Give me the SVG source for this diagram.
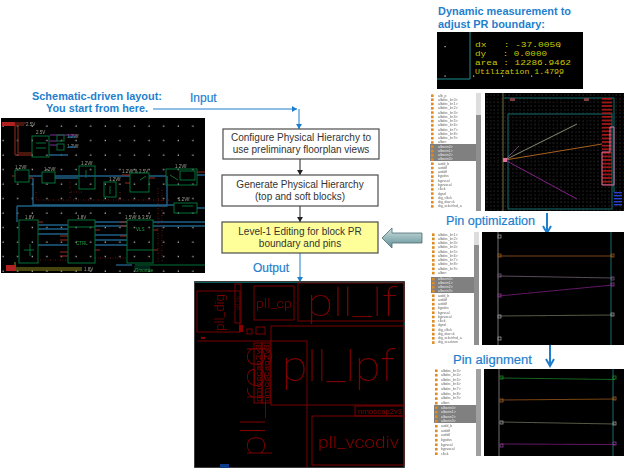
<svg xmlns="http://www.w3.org/2000/svg" width="626" height="470" viewBox="0 0 626 470">
<style>
text{font-family:"Liberation Sans",Arial,sans-serif}
.bl{fill:#1f7fce;font-size:12px;stroke:#1f7fce;stroke-width:.2}
.bb{fill:#1f7fce;font-size:11px;font-weight:bold}
.bx{fill:#fff;stroke:#4d4d4d;stroke-width:1.2}
.bt{fill:#333;font-size:10px;text-anchor:middle}
.c{fill:none;stroke:#1f7fce;stroke-width:1}
.k{fill:none;stroke:#222;stroke-width:1}
.g{fill:none;stroke:#0b6e38;stroke-width:1}
.w{fill:none;stroke:#225f86;stroke-width:1.4}
.wr{fill:none;stroke:#96281c;stroke-width:1}
.d{fill:none;stroke:#7a1f1f;stroke-width:.8;stroke-dasharray:1 1.5}
.v{fill:#a0a090;font-size:4.5px}
.gt{fill:#1fa040;font-size:4.5px}
.r{fill:none;stroke:#7a0000;stroke-width:1}
.rt{fill:#7f0000;font-family:Roboto,Lato,sans-serif;font-weight:100}
.rs{fill:#850000;font-family:Roboto,Lato,sans-serif;font-weight:300}
.m{fill:#c8c800;font-family:"Liberation Mono",monospace;font-size:8px;white-space:pre}
.li{fill:#666;font-size:3.4px}
.ls{fill:#e8e8e8;font-size:3.4px}
.ic{fill:#e08a20}
.p{fill:none;stroke-width:.9;stroke-opacity:.8}
.s{fill:none;stroke:#aaa;stroke-width:.7}
.soft{filter:url(#sf)}
</style>
<defs>
<filter id="sf" x="0" y="0" width="1" height="1"><feGaussianBlur stdDeviation=".35"/></filter>
<marker id="ab" markerUnits="userSpaceOnUse" markerWidth="6" markerHeight="6" refX="5" refY="3" orient="auto"><path d="M0 0L5 3L0 6z" fill="#1f7fce"/></marker>
<marker id="ak" markerUnits="userSpaceOnUse" markerWidth="6" markerHeight="6" refX="5" refY="3" orient="auto"><path d="M0 0L5 3L0 6z" fill="#222"/></marker>
<marker id="ac" markerUnits="userSpaceOnUse" markerWidth="10" markerHeight="10" refX="8" refY="5" orient="auto"><path d="M1 1L8 5L1 9" fill="none" stroke="#1f7fce" stroke-width="2"/></marker>
<pattern id="sd" width="14.6" height="14.5" patternUnits="userSpaceOnUse" x="-4" y="119"><rect x="6.5" y="6.5" width="1.2" height="1.2" fill="#ddd"/></pattern>
<pattern id="ld" width="3.7" height="3.7" patternUnits="userSpaceOnUse" x="485" y="93"><rect x="1.5" y="1.5" width=".8" height=".8" fill="#666"/></pattern>
<pattern id="st" width="4" height="3.6" patternUnits="userSpaceOnUse" x="602" y="98"><rect width="4" height="1.6" fill="#b01818"/></pattern>
<pattern id="bs" width="4" height="3" patternUnits="userSpaceOnUse" x="614" y="192"><rect width="4" height="1.4" fill="#2a3fd0"/></pattern>
<linearGradient id="ga" x1="0" y1="0" x2="0" y2="1"><stop offset="0" stop-color="#cfe0e0"/><stop offset="1" stop-color="#5f8f96"/></linearGradient>
<g id="row"><rect x="0" y="-2.6" width="2.6" height="2.6" class="ic"/></g>
</defs>
<rect width="626" height="470" fill="#fff"/>

<g id="schematic" class="soft">
<rect x="1" y="118" width="204" height="155" fill="#000"/>
<rect x="1" y="118" width="204" height="155" fill="url(#sd)"/>
<rect x="2" y="122" width="13" height="4" fill="#b02020"/>
<path class="wr" d="M14 123H26M15 125H24M15 125V155H32M18 125V153H32"/>
<text class="v" x="26" y="126">2.5V</text>
<text class="v" x="36" y="134">2.5V</text>
<text class="v" x="67" y="138">1.2Vlf</text>
<text class="v" x="67" y="148">1.2Vlf</text>
<text class="v" x="15" y="169">1.2Vlf</text>
<text class="v" x="44" y="171">1.2Vlf</text>
<text class="v" x="81" y="165">1.2Vlf</text>
<text class="v" x="109" y="181">1.2Vlf</text>
<text class="v" x="122" y="173">1.2Vlf &amp; 2.5V</text>
<text class="v" x="175" y="168">1.2Vlf</text>
<text class="v" x="178" y="201">1.2Vlf</text>
<text class="v" x="25" y="219">1.8V</text>
<text class="v" x="77" y="219">1.8V</text>
<text class="v" x="125" y="219">1.5Vlf &amp; 3.5V</text>
<text class="v" x="84" y="271">1.8V</text>
<path fill="none" stroke="#8a8a20" stroke-width="1" d="M12 268H82M12 270H82M15 262V270"/>
<rect x="6" y="265" width="10" height="6" fill="#b02020"/>
<path fill="none" stroke="#7a2a9a" stroke-width="1" d="M50 135H75M50 141H57M50 145H57"/>
<path class="w" d="M49 155H68M68 137H76M68 147H76"/>
<path class="w" d="M29 176H42M55 176H130M55 178H78M149 176H166"/>
<path class="w" d="M33 178V205H174M17 206H167V176M17 206V222M38 225H68M38 229H68M38 234H68M38 245H68M95 222H127M95 226H127M95 235H127M95 240H127M95 245H127M153 222H205M153 226H205"/>
<path class="w" d="M197 175H205M197 208H205"/>
<path class="d" d="M36 192V200H170M70 182V198M71 192H82M120 192V200M158 188V262M162 190V262M40 260H68M95 258H127"/>
<path class="wr" d="M60 236H68M60 240H68M60 252H68M60 256H68M95 230H100M95 250H100M120 222H127M120 226H127M120 236H127M153 230H158M153 250H158M12 176H15M29 178H33M38 222H43M122 175H130M149 178H155M197 172H205M125 183H130"/>
<path class="g" d="M135 265H205"/>
<rect x="134" y="266" width="16" height="4" fill="#06261a"/>
<text class="gt" x="135" y="272">Gmomite</text>
<path class="w" d="M116 265H132"/>
<rect x="32" y="136" width="17" height="21" class="g"/>
<rect x="57" y="135" width="7" height="6" class="g"/>
<rect x="57" y="144" width="7" height="6" class="g"/>
<rect x="15" y="170" width="14" height="12" class="g"/>
<rect x="42" y="172" width="13" height="11" class="g"/>
<rect x="79" y="166" width="16" height="23" class="g"/>
<rect x="104" y="182" width="12" height="15" class="g"/>
<rect x="130" y="173" width="19" height="19" class="g"/>
<rect x="166" y="169" width="31" height="16" class="g"/>
<rect x="180" y="171" width="15" height="9" class="g"/>
<rect x="174" y="203" width="23" height="10" class="g"/>
<rect x="19" y="220" width="19" height="43" class="g"/>
<rect x="68" y="220" width="27" height="43" class="g"/>
<path class="g" d="M68 227H95"/>
<rect x="127" y="220" width="26" height="43" class="g"/>
<path class="g" d="M127 250H153"/>
<path class="g" d="M24 250H34M30 244V256M36 143H46M36 148H46M86 170V178M140 180L146 176M170 175L178 180M182 206H193M110 186V194"/>
<text class="gt" x="76" y="245">CTRL</text>
<text class="gt" x="136" y="231">VLS</text>
</g>

<g id="schematic-label">
<text class="bb" x="97" y="100" text-anchor="middle" textLength="130" lengthAdjust="spacingAndGlyphs">Schematic-driven layout:</text>
<text class="bb" x="97" y="112" text-anchor="middle" textLength="102" lengthAdjust="spacingAndGlyphs">You start from here.</text>
</g>
<g id="input-label"><text class="bl" x="190" y="102">Input</text></g>
<g id="output-label"><text class="bl" x="253" y="272">Output</text></g>

<g id="connectors">
<path class="c" d="M153 109H297" marker-end="url(#ab)"/>
<path class="c" d="M299 109V129" marker-end="url(#ab)"/>
<path class="k" d="M300 159V175" marker-end="url(#ak)"/>
<path class="k" d="M300 206V222" marker-end="url(#ak)"/>
<path class="c" d="M300 253V282" marker-end="url(#ab)"/>
<path d="M547 213V233" fill="none" stroke="#1f7fce" stroke-width="2" marker-end="url(#ac)"/>
<path d="M550 345V366" fill="none" stroke="#1f7fce" stroke-width="2" marker-end="url(#ac)"/>
<path d="M382 238L392 228V233H422V243H392V248Z" fill="url(#ga)" stroke="#4a6d70" stroke-width=".8"/>
</g>

<g id="box-configure">
<rect class="bx" x="223" y="129" width="156" height="30"/>
<text class="bt" x="301" y="141">Configure Physical Hierarchy to</text>
<text class="bt" x="301" y="153">use preliminary floorplan views</text>
</g>
<g id="box-generate">
<rect class="bx" x="222" y="175" width="156" height="31"/>
<text class="bt" x="300" y="188">Generate Physical Hierarchy</text>
<text class="bt" x="300" y="200">(top and soft blocks)</text>
</g>
<g id="box-level1">
<rect class="bx" x="222" y="222" width="156" height="31" style="fill:#ffff99"/>
<text class="bt" x="300" y="235">Level-1 Editing for block PR</text>
<text class="bt" x="300" y="247">boundary and pins</text>
</g>

<g id="floorplan" class="soft">
<rect x="194" y="281" width="211" height="187" fill="#000" stroke="#666" stroke-width="1.2"/>
<path d="M195 282.500H404V467" fill="none" stroke="#0d5c5c" stroke-width="1"/>
<rect class="r" x="197" y="291" width="43" height="41"/>
<rect class="r" x="235" y="284" width="6" height="39"/>
<rect class="r" x="254" y="286" width="40" height="34"/>
<rect class="r" x="298" y="283" width="106" height="38"/>
<rect class="r" x="271" y="326" width="133" height="79"/>
<path class="r" d="M197 341H307V467"/>
<rect class="r" x="254" y="343" width="8" height="60"/>
<rect class="r" x="262" y="343" width="8" height="60"/>
<rect class="r" x="355" y="406" width="49" height="10" stroke-width="1.2"/>
<rect class="r" x="312" y="416" width="92" height="49"/>
<rect class="r" x="256" y="327" width="9" height="7"/>
<rect class="r" x="247" y="329" width="5" height="5"/>
<rect x="239" y="325" width="4" height="7" fill="#8a0000"/>
<rect x="201" y="337" width="4" height="2" fill="#8a0000"/>
<rect x="220" y="464" width="9" height="4" fill="#0a3a8a"/>
<text class="rs" transform="translate(224 331) rotate(-90)" font-size="13" textLength="37" lengthAdjust="spacingAndGlyphs">pll_dig</text>
<text class="rs" transform="translate(240 322) rotate(-90)" font-size="6" textLength="14" lengthAdjust="spacingAndGlyphs" x="12">pll_lib</text>
<text class="rs" x="256" y="308" font-size="12.5" textLength="36" lengthAdjust="spacingAndGlyphs">pll_cp</text>
<text class="rt" x="307" y="316" font-size="38" textLength="90" lengthAdjust="spacingAndGlyphs">pll_lf</text>
<text class="rt" x="282" y="381" font-size="42" textLength="113" lengthAdjust="spacingAndGlyphs">pll_lpf</text>
<text class="rt" transform="translate(265 457) rotate(-90)" font-size="33" textLength="112" lengthAdjust="spacingAndGlyphs">pll_reg</text>
<text class="rs" x="318" y="448" font-size="16" textLength="81" lengthAdjust="spacingAndGlyphs">pll_vcodiv</text>
<text class="rs" style="font-weight:400" transform="translate(261 402) rotate(-90)" font-size="8" textLength="58" lengthAdjust="spacingAndGlyphs">nmoscap2v3</text>
<text class="rs" style="font-weight:400" transform="translate(269 402) rotate(-90)" font-size="8" textLength="58" lengthAdjust="spacingAndGlyphs">nmoscap2v3</text>
<text class="rs" style="font-weight:400" x="358" y="414" font-size="7" textLength="44" lengthAdjust="spacingAndGlyphs">nmoscap2v3</text>
</g>

<g id="measure-label">
<text class="bb" x="438" y="15" textLength="133" lengthAdjust="spacingAndGlyphs">Dynamic measurement to</text>
<text class="bb" x="438" y="28" textLength="107" lengthAdjust="spacingAndGlyphs">adjust PR boundary:</text>
</g>
<g id="measure-panel">
<rect x="437" y="32" width="146" height="57" fill="#000"/>
<path d="M470 32V79H437" fill="none" stroke="#1d8f8f" stroke-width="1"/>
<g fill="#ccc"><rect x="444.500" y="46" width="1.200" height="1.200"/><rect x="444.500" y="75.500" width="1.200" height="1.200"/><rect x="473" y="75.500" width="1.200" height="1.200"/><rect x="502" y="75.500" width="1.200" height="1.200"/><rect x="531" y="75.500" width="1.200" height="1.200"/><rect x="559" y="75.500" width="1.200" height="1.200"/><rect x="559" y="46" width="1.200" height="1.200"/></g>
<text class="m" x="475" y="47" textLength="86" lengthAdjust="spacingAndGlyphs">dx   : -37.0050</text>
<text class="m" x="475" y="56" textLength="72" lengthAdjust="spacingAndGlyphs">dy   : 0.0000</text>
<text class="m" x="475" y="65" textLength="96" lengthAdjust="spacingAndGlyphs">area : 12286.9462</text>
<text class="m" x="475" y="74" textLength="89" lengthAdjust="spacingAndGlyphs">Utilization 1.4799</text>
</g>

<g id="panel-boundary">
<g class="soft">
<rect x="476" y="93" width="5" height="118" fill="#8f8f8f"/><rect x="476" y="93" width="5" height="22" fill="#ddd"/>
<rect x="430" y="144" width="46" height="17" fill="#808080"/>
<use href="#row" x="431" y="97"/><text class="li" x="438" y="96.500">alb_p</text>
<use href="#row" x="431" y="101"/><text class="li" x="438" y="100.700">albdec_b&lt;0&gt;</text>
<use href="#row" x="431" y="105.300"/><text class="li" x="438" y="105">albdec_b&lt;1&gt;</text>
<use href="#row" x="431" y="109.600"/><text class="li" x="438" y="109.300">albdec_b&lt;2&gt;</text>
<use href="#row" x="431" y="113.900"/><text class="li" x="438" y="113.500">albdec_b&lt;3&gt;</text>
<use href="#row" x="431" y="118.200"/><text class="li" x="438" y="117.800">albdec_b&lt;4&gt;</text>
<use href="#row" x="431" y="122.400"/><text class="li" x="438" y="122">albdec_b&lt;5&gt;</text>
<use href="#row" x="431" y="126.700"/><text class="li" x="438" y="126.300">albdec_b&lt;6&gt;</text>
<use href="#row" x="431" y="131"/><text class="li" x="438" y="130.600">albdec_b&lt;7&gt;</text>
<use href="#row" x="431" y="135.200"/><text class="li" x="438" y="134.800">albdec_b&lt;8&gt;</text>
<use href="#row" x="431" y="139.500"/><text class="li" x="438" y="139">albdec_b&lt;9&gt;</text>
<use href="#row" x="431" y="143.800"/><text class="li" x="438" y="143.300">alben</text>
<use href="#row" x="431" y="148"/><text class="ls" x="438" y="147.600">albsein0&gt;</text>
<use href="#row" x="431" y="152.300"/><text class="ls" x="438" y="151.800">albsein1&gt;</text>
<use href="#row" x="431" y="156.600"/><text class="ls" x="438" y="156.100">albsein2&gt;</text>
<use href="#row" x="431" y="160.800"/><text class="ls" x="438" y="160.400">albsein3&gt;</text>
<use href="#row" x="431" y="165"/><text class="li" x="438" y="164.600">avdd_b</text>
<use href="#row" x="431" y="169.300"/><text class="li" x="438" y="168.900">avddif</text>
<use href="#row" x="431" y="173.600"/><text class="li" x="438" y="173.200">avddif</text>
<use href="#row" x="431" y="177.900"/><text class="li" x="438" y="177.400">bypdss</text>
<use href="#row" x="431" y="182.100"/><text class="li" x="438" y="181.700">bypvcal</text>
<use href="#row" x="431" y="186.400"/><text class="li" x="438" y="186">bypvocal</text>
<use href="#row" x="431" y="190.700"/><text class="li" x="438" y="190.200">clkck</text>
<use href="#row" x="431" y="194.900"/><text class="li" x="438" y="194.500">dgnd</text>
<use href="#row" x="431" y="199.200"/><text class="li" x="438" y="198.800">dig_clkck</text>
<use href="#row" x="431" y="203.500"/><text class="li" x="438" y="203">dig_dsw ck</text>
<use href="#row" x="431" y="207.700"/><text class="li" x="438" y="207.300">dig_sckctrlnd_a</text>
</g>
<g class="soft">
<rect x="485" y="93" width="139" height="118" fill="#000"/>
<rect x="485" y="93" width="139" height="118" fill="url(#ld)"/>
<path d="M503 93V211" stroke="#8a8a50" stroke-width=".8" fill="none"/>
<path d="M503 98H614V192" stroke="#0f6a6a" stroke-width="1" fill="none"/>
<rect x="508" y="114" width="104" height="95" fill="none" stroke="#0f6a6a" stroke-width="1"/>
<rect x="602" y="98" width="10" height="87" fill="url(#st)"/>
<path d="M602 152H610V127H614V185H602Z" fill="none" stroke="#e070a0" stroke-width="1"/>
<rect x="614" y="192" width="8" height="14" fill="url(#bs)"/>
<path d="M505 160L577 124" stroke="#8a8a70" fill="none"/>
<path d="M505 160L602 144" stroke="#a8601c" fill="none"/>
<path d="M505 160L577 199" stroke="#86208a" fill="none"/>
<path d="M505 160L519 146" stroke="#9a5a8a" fill="none" stroke-width=".7"/>
<rect x="503" y="158" width="4" height="4" fill="#e070a0"/>
<rect x="510" y="98" width="5" height="3" fill="#7a4040"/>
<rect x="584" y="98" width="5" height="3" fill="#7a4040"/>
</g>
</g>

<g id="pin-optimization-label"><text class="bl" x="446" y="225" textLength="89" lengthAdjust="spacingAndGlyphs">Pin optimization</text></g>
<g id="panel-optimization">
<g class="soft">
<rect x="474" y="232" width="5" height="113" fill="#8f8f8f"/><rect x="474" y="232" width="5" height="13" fill="#ddd"/>
<rect x="431" y="277" width="43" height="16" fill="#808080"/>
<use href="#row" x="432" y="236"/><text class="li" x="438" y="235.500">albdec_b&lt;1&gt;</text>
<use href="#row" x="432" y="240.200"/><text class="li" x="438" y="239.800">albdec_b&lt;2&gt;</text>
<use href="#row" x="432" y="244.500"/><text class="li" x="438" y="244">albdec_b&lt;3&gt;</text>
<use href="#row" x="432" y="248.800"/><text class="li" x="438" y="248.300">albdec_b&lt;4&gt;</text>
<use href="#row" x="432" y="253"/><text class="li" x="438" y="252.600">albdec_b&lt;5&gt;</text>
<use href="#row" x="432" y="257.300"/><text class="li" x="438" y="256.800">albdec_b&lt;6&gt;</text>
<use href="#row" x="432" y="261.600"/><text class="li" x="438" y="261.100">albdec_b&lt;7&gt;</text>
<use href="#row" x="432" y="265.800"/><text class="li" x="438" y="265.400">albdec_b&lt;8&gt;</text>
<use href="#row" x="432" y="270.100"/><text class="li" x="438" y="269.600">albdec_b&lt;9&gt;</text>
<use href="#row" x="432" y="274.400"/><text class="li" x="438" y="273.900">alben</text>
<use href="#row" x="432" y="280.500"/><text class="ls" x="438" y="280">albsein0&gt;</text>
<use href="#row" x="432" y="284.500"/><text class="ls" x="438" y="284">albsein1&gt;</text>
<use href="#row" x="432" y="288.500"/><text class="ls" x="438" y="288">albsein2&gt;</text>
<use href="#row" x="432" y="292.500"/><text class="ls" x="438" y="292">albsein3&gt;</text>
<use href="#row" x="432" y="297"/><text class="li" x="438" y="296.500">avdd_b</text>
<use href="#row" x="432" y="301.200"/><text class="li" x="438" y="300.800">avddif</text>
<use href="#row" x="432" y="305.500"/><text class="li" x="438" y="305">avddif</text>
<use href="#row" x="432" y="309.800"/><text class="li" x="438" y="309.300">bypdss</text>
<use href="#row" x="432" y="314"/><text class="li" x="438" y="313.600">bypvcal</text>
<use href="#row" x="432" y="318.300"/><text class="li" x="438" y="317.800">bypvocal</text>
<use href="#row" x="432" y="322.600"/><text class="li" x="438" y="322.100">clkck</text>
<use href="#row" x="432" y="326.800"/><text class="li" x="438" y="326.400">dgnd</text>
<use href="#row" x="432" y="331.100"/><text class="li" x="438" y="330.600">dig_clkck</text>
<use href="#row" x="432" y="335.400"/><text class="li" x="438" y="334.900">dig_dsw ck</text>
<use href="#row" x="432" y="339.600"/><text class="li" x="438" y="339.200">dig_sckctrlnd_a</text>
<use href="#row" x="432" y="343.900"/><text class="li" x="438" y="343.400">dig_sccaleon</text>
</g>
<g class="soft">
<rect x="482" y="232" width="142" height="113" fill="#000"/>
<path d="M498 232V345" stroke="#8a8a8a" fill="none" stroke-width=".8"/>
<path d="M611 232V345" stroke="#0f6a6a" fill="none"/>
<path d="M499 256H613" stroke="#a8601c" class="p"/>
<path d="M499 276L613 278" stroke="#7a6a7a" class="p"/>
<path d="M499 296L613 285" stroke="#86208a" class="p"/>
<path d="M499 316L613 315" stroke="#7a7a60" class="p"/>
<g class="s"><rect x="498" y="235" width="3" height="3"/><rect x="498" y="254" width="3" height="3" stroke="#a8601c"/><rect x="611" y="254" width="3" height="3" stroke="#a8601c"/><rect x="498" y="274" width="3" height="3" stroke="#86608a"/><rect x="611" y="277" width="3" height="3" stroke="#86608a"/><rect x="611" y="283" width="3" height="3" stroke="#a040a8"/><rect x="498" y="294" width="3" height="3" stroke="#a040a8"/><rect x="498" y="315" width="3" height="3"/><rect x="611" y="313" width="3" height="3"/><rect x="498" y="337" width="3" height="3"/></g>
</g>
</g>

<g id="pin-alignment-label"><text class="bl" x="453" y="364" textLength="79" lengthAdjust="spacingAndGlyphs">Pin alignment</text></g>
<g id="panel-alignment">
<g class="soft">
<rect x="476" y="369" width="5" height="87" fill="#a0a0a0"/>
<rect x="434" y="405" width="42" height="18" fill="#808080"/>
<use href="#row" x="435" y="372"/><text class="li" x="441" y="371.500">albdec_b&lt;3&gt;</text>
<use href="#row" x="435" y="376.500"/><text class="li" x="441" y="376">albdec_b&lt;4&gt;</text>
<use href="#row" x="435" y="381.200"/><text class="li" x="441" y="380.700">albdec_b&lt;5&gt;</text>
<use href="#row" x="435" y="385.900"/><text class="li" x="441" y="385.400">albdec_b&lt;6&gt;</text>
<use href="#row" x="435" y="390.500"/><text class="li" x="441" y="390">albdec_b&lt;7&gt;</text>
<use href="#row" x="435" y="395.200"/><text class="li" x="441" y="394.700">albdec_b&lt;8&gt;</text>
<use href="#row" x="435" y="399.900"/><text class="li" x="441" y="399.400">albdec_b&lt;9&gt;</text>
<use href="#row" x="435" y="404.500"/><text class="li" x="441" y="404">alben</text>
<use href="#row" x="435" y="409"/><text class="ls" x="441" y="408.500">albsein0&gt;</text>
<use href="#row" x="435" y="413.500"/><text class="ls" x="441" y="413">albsein1&gt;</text>
<use href="#row" x="435" y="418"/><text class="ls" x="441" y="417.500">albsein2&gt;</text>
<use href="#row" x="435" y="422.500"/><text class="ls" x="441" y="422">albsein3&gt;</text>
<use href="#row" x="435" y="427.500"/><text class="li" x="441" y="427">avdd_b</text>
<use href="#row" x="435" y="432.200"/><text class="li" x="441" y="431.700">avddif</text>
<use href="#row" x="435" y="436.800"/><text class="li" x="441" y="436.300">avddif</text>
<use href="#row" x="435" y="441.500"/><text class="li" x="441" y="441">bypdss</text>
<use href="#row" x="435" y="446"/><text class="li" x="441" y="445.500">bypvcal</text>
<use href="#row" x="435" y="450.500"/><text class="li" x="441" y="450">bypvocal</text>
<use href="#row" x="435" y="455"/><text class="li" x="441" y="454.500">clkck</text>
</g>
<g class="soft">
<rect x="484" y="369" width="140" height="87" fill="#000"/>
<path d="M499 369V456" stroke="#8a8a8a" fill="none" stroke-width=".8"/>
<path d="M613 369V456" stroke="#0f6a6a" fill="none"/>
<path d="M501 378L615 379.500" stroke="#1a8a2a" class="p"/>
<path d="M501 400L615 399" stroke="#a8601c" class="p"/>
<path d="M501 422L615 424" stroke="#7a7a60" class="p"/>
<path d="M501 444L615 444.500" stroke="#86208a" class="p"/>
<g class="s"><rect x="500" y="376" width="3" height="3" stroke="#1a9a2a"/><rect x="613" y="376" width="3" height="3" stroke="#1a9a2a"/><rect x="500" y="399" width="3" height="3" stroke="#b06a20"/><rect x="613" y="397" width="3" height="3" stroke="#b06a20"/><rect x="500" y="421" width="3" height="3"/><rect x="613" y="422" width="3" height="3"/><rect x="500" y="444" width="3" height="3" stroke="#a040a8"/><rect x="613" y="442" width="3" height="3" stroke="#a040a8"/></g>
</g>
</g>
</svg>
